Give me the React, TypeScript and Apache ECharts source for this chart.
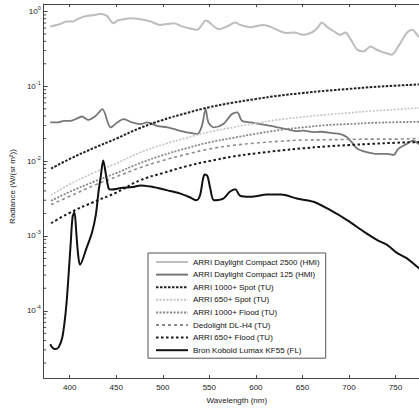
import React, { useEffect, useRef } from "react";
import * as echarts from "echarts";

// ---------- data ----------
const seriesNames = [
  "ARRI Daylight Compact 2500 (HMI)",
  "ARRI Daylight Compact 125 (HMI)",
  "ARRI 1000+ Spot (TU)",
  "ARRI 650+ Spot (TU)",
  "ARRI 1000+ Flood (TU)",
  "Dedolight DL-H4 (TU)",
  "ARRI 650+ Flood (TU)",
  "Bron Kobold Lumax KF55 (FL)",
];

const hmi2500Wl = [379, 390, 397, 403, 408, 415, 420, 425, 433, 436, 440, 444, 447, 451, 458, 465, 476, 487, 497, 505, 512, 519, 528, 537, 542, 546, 549, 555, 560, 569, 578, 583, 594, 608, 619, 627, 633, 641, 651, 660, 666, 671, 676, 684, 691, 696, 701, 709, 716, 723, 730, 737, 746, 753, 762, 768, 775, 785];
const hmi2500 = [0.63, 0.682, 0.733, 0.733, 0.787, 0.853, 0.879, 0.891, 0.927, 0.918, 0.871, 0.748, 0.697, 0.755, 0.787, 0.813, 0.787, 0.733, 0.662, 0.682, 0.697, 0.643, 0.598, 0.569, 0.662, 0.755, 0.733, 0.63, 0.581, 0.63, 0.711, 0.662, 0.617, 0.662, 0.598, 0.54, 0.514, 0.524, 0.488, 0.524, 0.598, 0.711, 0.63, 0.54, 0.488, 0.524, 0.442, 0.308, 0.293, 0.341, 0.308, 0.284, 0.265, 0.341, 0.514, 0.569, 0.463, 0.4];

const hmi125Wl = [379, 387, 394, 401, 408, 413, 420, 428, 435, 444, 451, 458, 467, 476, 483, 494, 505, 515, 526, 537, 542, 546, 549, 555, 565, 574, 580, 585, 594, 605, 616, 624, 633, 644, 651, 662, 670, 682, 691, 698, 703, 709, 719, 730, 741, 748, 753, 762, 769, 775, 785];
const hmi125 = [0.0329, 0.0329, 0.0346, 0.0346, 0.0372, 0.0395, 0.0356, 0.0403, 0.0494, 0.0282, 0.0329, 0.0364, 0.0329, 0.0313, 0.0329, 0.0296, 0.0282, 0.0262, 0.0243, 0.023, 0.0296, 0.0494, 0.0329, 0.0282, 0.0313, 0.0424, 0.0447, 0.0346, 0.0329, 0.0313, 0.0296, 0.0282, 0.0268, 0.0251, 0.0255, 0.0244, 0.0247, 0.0237, 0.023, 0.0208, 0.0179, 0.0146, 0.0132, 0.0125, 0.0125, 0.0121, 0.0146, 0.017, 0.0188, 0.017, 0.0158];

const tungstenWl = [380, 400, 425, 450, 475, 500, 525, 550, 575, 600, 625, 650, 675, 700, 725, 750, 775, 800];
const spot1000 = [0.00794, 0.0107, 0.0148, 0.02, 0.0275, 0.0355, 0.0437, 0.0525, 0.0603, 0.0676, 0.075, 0.0813, 0.0871, 0.0923, 0.0977, 0.102, 0.106, 0.11];
const spot650 = [0.00351, 0.0049, 0.00692, 0.00933, 0.0129, 0.0166, 0.0204, 0.0245, 0.0282, 0.032, 0.0359, 0.0389, 0.0417, 0.0442, 0.0468, 0.049, 0.0513, 0.0531];
const flood1000 = [0.00295, 0.00389, 0.00525, 0.00692, 0.00933, 0.012, 0.0148, 0.0178, 0.0204, 0.0232, 0.026, 0.0282, 0.0302, 0.0313, 0.0324, 0.0331, 0.0335, 0.0339];
const dedolight = [0.00263, 0.00339, 0.00468, 0.00617, 0.00813, 0.0102, 0.0123, 0.0145, 0.0162, 0.0174, 0.0184, 0.0191, 0.0193, 0.0195, 0.0197, 0.0197, 0.02, 0.02];
const flood650 = [0.00148, 0.00204, 0.00282, 0.0038, 0.0055, 0.00692, 0.00851, 0.01, 0.0115, 0.0127, 0.0138, 0.0148, 0.0157, 0.0164, 0.017, 0.0176, 0.018, 0.0184];

const bronWl = [379, 382, 385, 388, 392, 395, 397, 399, 401, 403, 405, 407, 409, 411, 418, 424, 428, 431, 433, 436, 439, 442, 445, 455, 468, 476, 487, 497, 508, 519, 530, 536, 540, 543, 545, 548, 551, 555, 565, 572, 578, 583, 594, 612, 627, 644, 662, 680, 698, 716, 730, 741, 752, 762, 775, 790];
const bron = [3.58e-5, 3.16e-5, 3.08e-5, 3.24e-5, 4.4e-5, 8.11e-5, 1.49e-4, 3.37e-4, 7.9e-4, 1.78e-3, 2.09e-3, 1.12e-3, 5.6e-4, 4.12e-4, 6.87e-4, 1.12e-3, 1.91e-3, 3.98e-3, 5.82e-3, 1.02e-2, 6.46e-3, 4.27e-3, 4.17e-3, 4.37e-3, 4.52e-3, 4.74e-3, 4.57e-3, 4.3e-3, 3.98e-3, 3.68e-3, 3.24e-3, 3.0e-3, 3.5e-3, 5.62e-3, 6.61e-3, 6.31e-3, 4.3e-3, 3.0e-3, 3.16e-3, 3.89e-3, 4.2e-3, 3.44e-3, 3.33e-3, 3.57e-3, 3.57e-3, 3.16e-3, 2.86e-3, 2.21e-3, 1.63e-3, 1.14e-3, 8.85e-4, 7.6e-4, 5.89e-4, 5.06e-4, 3.73e-4, 2.82e-4];

const X_MIN = 372;
const X_MAX = 800;
const Y_MIN = Math.pow(10, -4.9);
const Y_MAX = Math.pow(10, 0.1);
const minorDecades = [-5, -4, -3, -2, -1];
const minorMultipliers = [2, 3, 4, 5, 6, 7, 8, 9];

const zip = (xs: number[], ys: number[]) => xs.map((x, i) => [x, ys[i]]);

const FONT = "Liberation Sans";
const TXT = "#222";
const AX = "#444";

export default function App() {
  const ref = useRef<HTMLDivElement>(null);
  useEffect(() => {
    if (!ref.current) return;
    const chart = echarts.init(ref.current, undefined, { renderer: "svg" });

    const minorTicks: number[][] = [];
    minorDecades.forEach((d) =>
      minorMultipliers.forEach((m) => {
        const v = m * Math.pow(10, d);
        if (v > Y_MIN && v < Y_MAX) minorTicks.push([X_MIN, v]);
      })
    );

    const lineSeries = (
      name: string,
      data: number[][],
      color: string,
      width: number,
      type: any,
      smooth: number | boolean
    ) => ({
      name,
      type: "line",
      data,
      symbol: "none",
      smooth,
      lineStyle: { color, width, type },
      itemStyle: { color },
      z: 2,
    });

    const option: any = {
      animation: false,
      backgroundColor: "#fff",
      textStyle: { fontFamily: FONT },
      grid: { left: 43, top: 4, bottom: 28, right: 18 },
      xAxis: [
        {
          type: "value",
          min: X_MIN,
          max: X_MAX,
          splitNumber: 8,
          name: "Wavelength (nm)",
          nameLocation: "middle",
          nameGap: 15,
          nameTextStyle: { fontSize: 8, color: TXT, fontFamily: FONT, padding: [0, 12, 0, 0] },
          axisLine: { lineStyle: { color: AX, width: 1 } },
          axisTick: { inside: true, length: 3, lineStyle: { color: AX } },
          axisLabel: { fontSize: 8, color: TXT, margin: 5, showMinLabel: false, showMaxLabel: false, fontFamily: FONT },
          splitLine: { show: false },
        },
        {
          type: "value",
          position: "top",
          min: X_MIN,
          max: X_MAX,
          splitNumber: 8,
          axisLine: { show: true, lineStyle: { color: AX, width: 1 } },
          axisTick: { show: true, inside: true, length: 3, lineStyle: { color: AX } },
          axisLabel: { show: false },
          splitLine: { show: false },
        },
      ],
      yAxis: {
        type: "log",
        logBase: 10,
        min: Y_MIN,
        max: Y_MAX,
        name: "Radiance (W/(sr m²))",
        nameLocation: "middle",
        nameGap: 26,
        nameTextStyle: { fontSize: 8, color: TXT, fontFamily: FONT, padding: [0, 0, 0, 9] },
        axisLine: { show: true, lineStyle: { color: AX, width: 1 } },
        axisTick: { inside: true, length: 4, lineStyle: { color: AX } },
        axisLabel: {
          showMinLabel: false,
          showMaxLabel: false,
          margin: 3,
          color: TXT,
          formatter: (v: number) => {
            const e = Math.round(Math.log10(v));
            return "{b|10}{s|" + e + "}";
          },
          rich: {
            b: { fontSize: 8, fontFamily: FONT, color: TXT },
            s: { fontSize: 5.5, fontFamily: FONT, color: TXT, padding: [0, 0, 7, 0] },
          },
        },
        splitLine: { show: false },
        minorTick: { show: false },
      },
      legend: {
        data: seriesNames,
        orient: "vertical",
        left: 148,
        top: 253,
        itemWidth: 32,
        itemHeight: 10,
        itemGap: 4.6,
        padding: [5, 6, 4, 7],
        backgroundColor: "#fff",
        borderColor: "#555",
        borderWidth: 1,
        itemStyle: { opacity: 0, borderWidth: 0 },
        textStyle: { fontSize: 8, color: "#111", fontFamily: FONT },
      },
      series: [
        lineSeries(seriesNames[0], zip(hmi2500Wl, hmi2500), "#bdbdbd", 2, "solid", 0.3),
        lineSeries(seriesNames[1], zip(hmi125Wl, hmi125), "#777", 1.8, "solid", 0.3),
        lineSeries(seriesNames[2], zip(tungstenWl, spot1000), "#222", 2, [2.5, 1.5], true),
        lineSeries(seriesNames[3], zip(tungstenWl, spot650), "#c4c4c4", 1.6, [2, 1.5], true),
        lineSeries(seriesNames[4], zip(tungstenWl, flood1000), "#888", 1.8, [2, 1.5], true),
        lineSeries(seriesNames[5], zip(tungstenWl, dedolight), "#8c8c8c", 1.6, [3, 3], true),
        lineSeries(seriesNames[6], zip(tungstenWl, flood650), "#1a1a1a", 2, [2.5, 2.5], true),
        lineSeries(seriesNames[7], zip(bronWl, bron), "#111", 2, "solid", 0.3),
        {
          type: "custom",
          silent: true,
          data: minorTicks,
          z: 3,
          renderItem: (params: any, api: any) => {
            const p = api.coord([api.value(0), api.value(1)]);
            return {
              type: "line",
              shape: { x1: p[0], y1: p[1], x2: p[0] + 2.5, y2: p[1] },
              style: { stroke: AX, lineWidth: 1 },
            };
          },
        },
      ],
    };
    chart.setOption(option);
    return () => chart.dispose();
  }, []);

  return (
    <div
      style={{
        position: "fixed",
        left: 0,
        top: 0,
        width: 419,
        height: 409,
        overflow: "hidden",
        background: "#fff",
      }}
    >
      <div ref={ref} style={{ width: 460, height: 409 }} />
    </div>
  );
}
